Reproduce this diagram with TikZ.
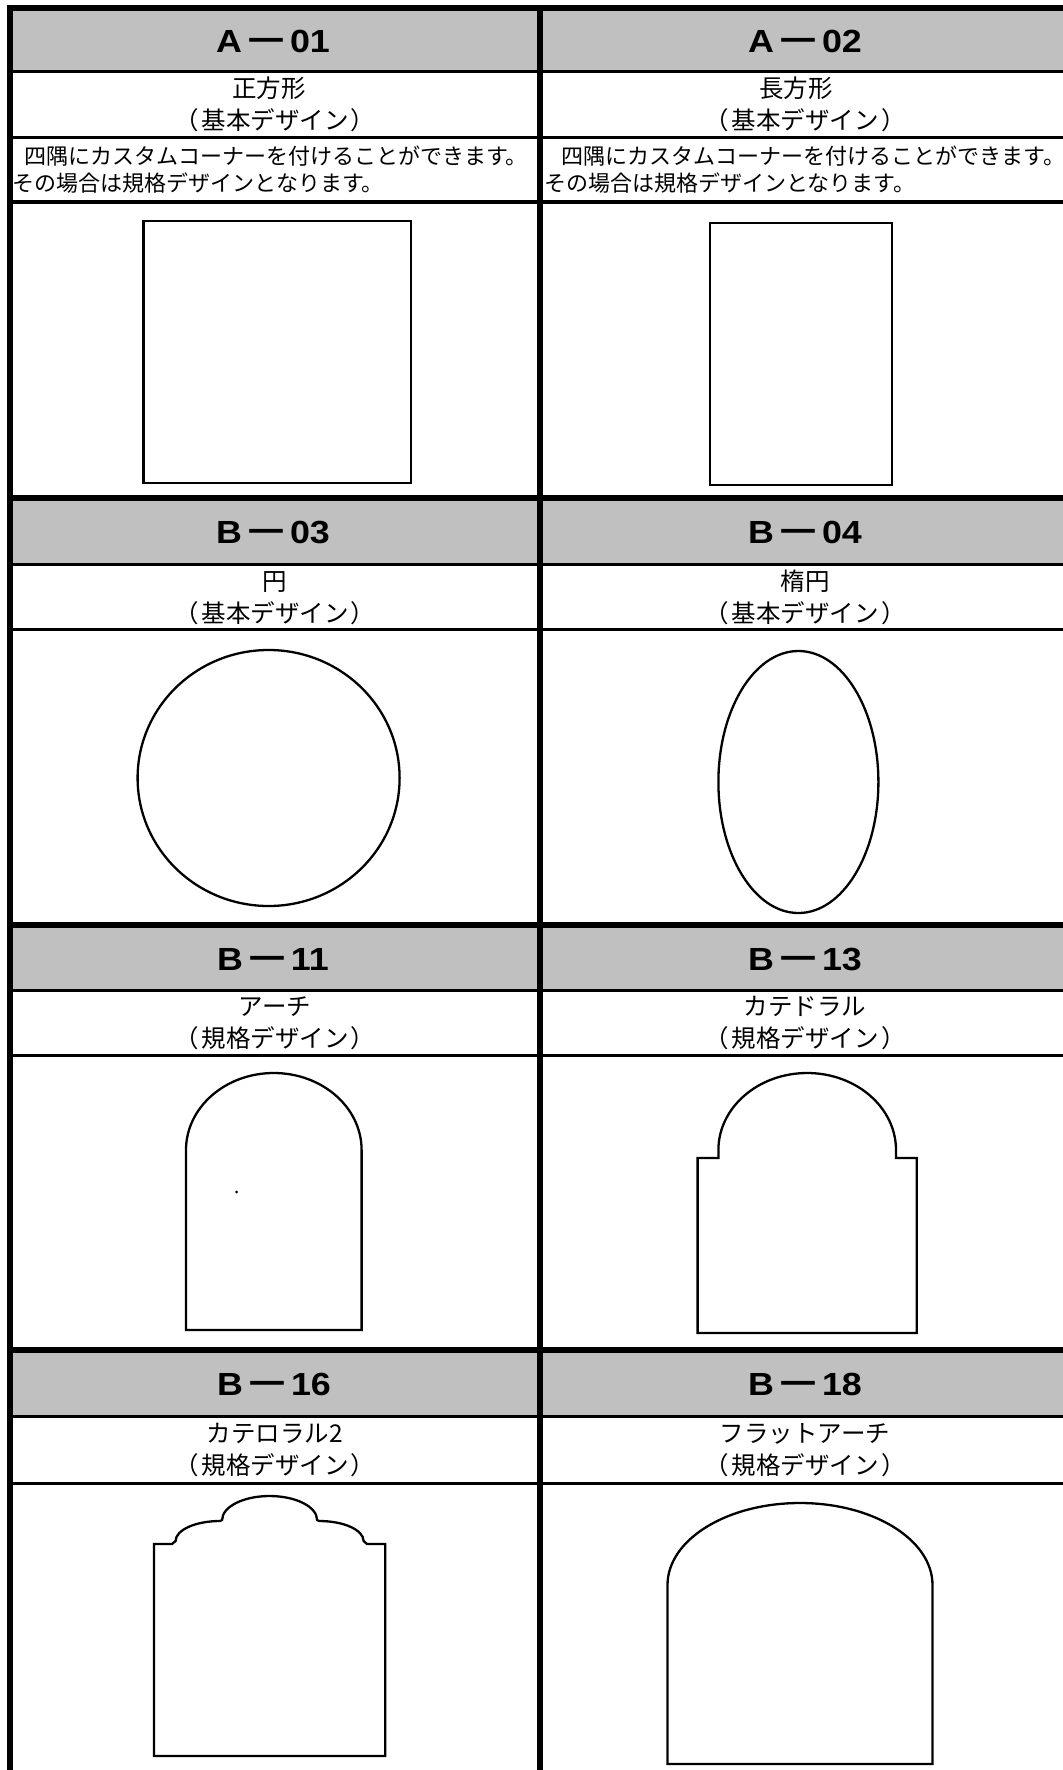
\documentclass[tikz,border=0pt]{standalone}
\usepackage{fontspec}
\usepackage{tikz}
\newfontfamily\jpfont{Noto Sans CJK JP}
\newfontfamily\jpdash{Noto Sans CJK JP}[FakeStretch=1.5]
\newfontfamily\latinbold{Liberation Sans}[FakeStretch=1.12]
\definecolor{headgray}{RGB}{192,192,192}
\newcommand\headcode[2]{{\latinbold\bfseries #1}{\jpdash\bfseries －}{\latinbold\bfseries #2}}
\newcommand\kind[1]{（\kern2.5pt #1\kern2.5pt ）}
\tikzset{
    rulethick/.style={line width=6pt},
    rulethin/.style={line width=3pt},
    headtext/.style={font=\fontsize{32}{32}\selectfont, anchor=base, inner sep=0pt},
    nametext/.style={font=\jpfont\fontsize{24.5}{24.5}\selectfont, anchor=base, inner sep=0pt},
    notetext/.style={font=\jpfont\fontsize{22}{22}\selectfont, anchor=base west, inner sep=0pt},
    outline/.style={line width=2.3pt, line join=miter},
}

\begin{document}
    \begin{tikzpicture}[x=1pt,y=-1pt]
        \useasboundingbox (0,0) rectangle (1063,1770);
        \fill[headgray] (12,11) rectangle (1063,70);
        \fill[headgray] (12,501) rectangle (1063,563);
        \fill[headgray] (12,928) rectangle (1063,989);
        \fill[headgray] (12,1353) rectangle (1063,1415);

        \draw[rulethick] (7,8) -- (1063,8);
        \foreach \y in {498,925,1350}
            \draw[rulethick] (7,\y) -- (1063,\y);
        \foreach \y in {71,137,564,629,990,1055,1416,1483}
            \draw[rulethin] (7,\y) -- (1063,\y);
        \draw[line width=4pt] (7,202) -- (1063,202);
        \draw[rulethick] (10,5) -- (10,1770);
        \draw[rulethick] (539.7,5) -- (539.7,1770);

        \node[headtext] (a01) at (273,52) {\headcode{A}{01}};
        \node[headtext] (a02) at (805,52) {\headcode{A}{02}};
        \node[headtext] (b03) at (273,543.5) {\headcode{B}{03}};
        \node[headtext] (b04) at (805,543.5) {\headcode{B}{04}};
        \node[headtext] (b11) at (273,970) {\headcode{B}{11}};
        \node[headtext] (b13) at (805,970) {\headcode{B}{13}};
        \node[headtext] (b16) at (274,1395.5) {\headcode{B}{16}};
        \node[headtext] (b18) at (805,1395.5) {\headcode{B}{18}};

        \node[nametext] (a01name) at (269,97) {正方形};
        \node[nametext] (a01kind) at (275,129) {\kind{基本デザイン}};
        \node[nametext] (a02name) at (796,97) {長方形};
        \node[nametext] (a02kind) at (805,129) {\kind{基本デザイン}};
        \node[nametext] (b03name) at (275,590) {円};
        \node[nametext] (b03kind) at (275,622) {\kind{基本デザイン}};
        \node[nametext] (b04name) at (805,590) {楕円};
        \node[nametext] (b04kind) at (805,622) {\kind{基本デザイン}};
        \node[nametext] (b11name) at (275,1015) {アーチ};
        \node[nametext] (b11kind) at (275,1047) {\kind{規格デザイン}};
        \node[nametext] (b13name) at (805,1015) {カテドラル};
        \node[nametext] (b13kind) at (805,1047) {\kind{規格デザイン}};
        \node[nametext] (b16name) at (275,1442) {カテロラル2};
        \node[nametext] (b16kind) at (275,1474) {\kind{規格デザイン}};
        \node[nametext] (b18name) at (805,1442) {フラットアーチ};
        \node[nametext] (b18kind) at (805,1474) {\kind{規格デザイン}};

        \node[notetext] (a01note) at (24,164) {四隅にカスタムコーナーを付けることができます。};
        \node[notetext] (a01rule) at (12.5,191) {その場合は規格デザインとなります。};
        \node[notetext] (a02note) at (561,164) {四隅にカスタムコーナーを付けることができます。};
        \node[notetext] (a02rule) at (544,191) {その場合は規格デザインとなります。};

        \draw[outline] (143.6,221) rectangle (411.2,483);
        \draw[outline] (710,223) rectangle (892,485);
        \draw[outline] (268.6,778) ellipse [x radius=131, y radius=128];
        \draw[outline] (798.4,782) ellipse [x radius=80, y radius=131];
        \draw[outline] (186,1330) -- (186,1150) arc[start angle=180, end angle=360, x radius=87.8, y radius=77] -- (361.6,1330) -- cycle;
        \fill (236.6,1192) circle[radius=1.5];
        \draw[outline] (697.6,1333) -- (697.6,1158) -- (718.4,1158) -- (718.4,1150) arc[start angle=180, end angle=360, x radius=88.8, y radius=77] -- (896,1158) -- (916.8,1158) -- (916.8,1333) -- cycle;
        \draw[outline] (154,1756) -- (154,1544) -- (172,1544) -- (175.6,1541) arc[start angle=180, end angle=270, x radius=44.4, y radius=20] -- (222.1,1520) arc[start angle=180, end angle=360, x radius=47.5, y radius=24] -- (319.2,1521) arc[start angle=270, end angle=360, x radius=44.4, y radius=20] -- (367,1544) -- (385.3,1544) -- (385.3,1756) -- cycle;
        \draw[outline] (667.5,1764) -- (667.5,1585) arc[start angle=180, end angle=360, x radius=132.5, y radius=82] -- (932.4,1764) -- cycle;
    \end{tikzpicture}
\end{document}
